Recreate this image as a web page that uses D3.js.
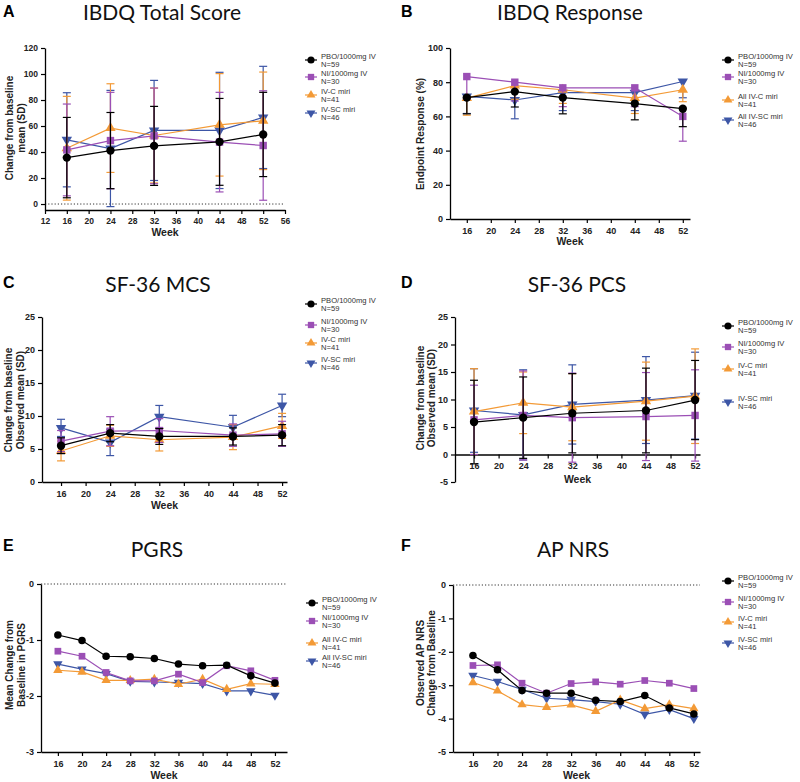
<!DOCTYPE html>
<html>
<head>
<meta charset="utf-8">
<script src="https://cdn.jsdelivr.net/npm/d3@7"></script>
<style>
body { margin: 0; background: #fff; }
text { font-family: "Liberation Sans", Arial, sans-serif; }
</style>
</head>
<body>
<div id="chart"></div>
<script>
// series, in legend order
const seriesN = ['N=59', 'N=30', 'N=41', 'N=46'];
const namesShort = ['PBO/1000mg IV', 'NI/1000mg IV', 'IV-C miri', 'IV-SC miri'];
const namesAll = ['PBO/1000mg IV', 'NI/1000mg IV', 'All IV-C miri', 'All IV-SC miri'];
const colours = ['#000000', '#9b4fb5', '#f39a36', '#3d56a6'];
const symbolTypes = ['circle', 'square', 'up', 'down'];

const weeksVisit = [16, 24, 32, 44, 52];
const weeksAll = [16, 20, 24, 28, 32, 36, 40, 44, 48, 52];

// A: IBDQ total score, mean change and SD
const ibdqMean = [
    [35.7, 41.1, 44.7, 47.8, 53.5],
    [41.6, 48.8, 52.4, 47.6, 45.0],
    [42.9, 58.4, 52.7, 60.9, 64.0],
    [49.4, 42.7, 56.6, 56.6, 66.6],
];
const ibdqSd = [
    [30.9, 29.3, 30.4, 33.4, 32.4],
    [35.3, 37.1, 36.8, 38.3, 42.1],
    [39.9, 34.1, 36.5, 39.4, 37.5],
    [36.2, 44.7, 38.5, 44.7, 39.3],
];

// B: IBDQ response (%), lower error only
const responsePct = [
    [71.0, 74.5, 71.0, 67.5, 64.5],
    [83.3, 80.0, 76.7, 76.7, 60.0],
    [70.7, 78.0, 75.6, 70.7, 75.6],
    [71.7, 69.6, 73.9, 73.9, 80.4],
];
const responseErr = [
    [9.5, 9.0, 9.5, 9.5, 10.5],
    [13.0, 11.0, 11.0, 11.0, 14.5],
    [10.0, 8.0, 8.0, 9.0, 7.0],
    [10.0, 11.0, 10.5, 10.5, 9.5],
];

// C: SF-36 MCS
const mcsMean = [
    [5.5, 7.4, 6.9, 6.9, 7.1],
    [6.2, 7.7, 7.8, 7.1, 7.3],
    [4.7, 7.0, 6.4, 6.8, 8.5],
    [8.2, 6.0, 9.9, 8.3, 11.6],
];
const mcsSd = [
    [1.2, 1.3, 1.2, 1.3, 1.6],
    [1.6, 2.2, 1.8, 1.7, 1.9],
    [1.5, 1.6, 1.7, 1.9, 1.9],
    [1.3, 2.0, 1.7, 1.8, 1.7],
];

// D: SF-36 PCS
const pcsMean = [
    [5.9, 6.7, 7.5, 8.0, 9.9],
    [6.3, 7.1, 6.7, 6.9, 7.1],
    [7.8, 9.4, 8.6, 9.7, 10.6],
    [8.0, 7.2, 9.1, 9.9, 10.7],
];
const pcsSd = [
    [7.6, 7.4, 7.2, 7.7, 7.2],
    [6.3, 8.1, 8.1, 8.0, 8.3],
    [7.8, 5.6, 6.1, 7.1, 8.6],
    [7.6, 8.2, 7.2, 7.9, 7.9],
];

// E: PGRS mean change
const pgrsMean = [
    [-0.91, -1.01, -1.29, -1.30, -1.33, -1.43, -1.46, -1.45, -1.64, -1.77],
    [-1.20, -1.29, -1.58, -1.73, -1.73, -1.61, -1.76, -1.46, -1.55, -1.72],
    [-1.54, -1.57, -1.72, -1.72, -1.70, -1.79, -1.70, -1.88, -1.78, -1.79],
    [-1.43, -1.52, -1.60, -1.74, -1.75, -1.76, -1.78, -1.91, -1.91, -1.99],
];

// F: AP NRS change
const apnrsMean = [
    [-2.11, -2.54, -3.16, -3.24, -3.24, -3.45, -3.49, -3.31, -3.68, -3.86],
    [-2.41, -2.39, -2.94, -3.24, -2.95, -2.90, -2.97, -2.86, -2.94, -3.10],
    [-2.92, -3.17, -3.58, -3.66, -3.59, -3.78, -3.44, -3.70, -3.58, -3.70],
    [-2.71, -2.89, -3.13, -3.39, -3.43, -3.49, -3.57, -3.87, -3.73, -4.00],
];

const svg = d3.select('#chart')
    .append('svg')
        .attr('width', 800)
        .attr('height', 782);

function symbolPath(type, size) {
    if (type === 'circle') return d3.symbol(d3.symbolCircle, size)();
    if (type === 'square') return d3.symbol(d3.symbolSquare, size)();
    return d3.symbol(d3.symbolTriangle, size * 0.85)();
}

function drawPanel(p) {
    const x = d3.scaleLinear().domain(p.xDomain).range([p.left, p.right]);
    const y = d3.scaleLinear().domain(p.yDomain).range([p.bottom, p.top]);
    const g = svg.append('g');

    // letter and title
    g.append('text')
        .text(p.letter)
        .attr('x', p.letterPos[0]).attr('y', p.letterPos[1])
        .attr('font-size', 16).attr('font-weight', 'bold');
    g.append('text')
        .text(p.title)
        .attr('x', p.titlePos[0]).attr('y', p.titlePos[1])
        .attr('text-anchor', 'middle')
        .style('font-family', 'Lato, "Open Sans", sans-serif')
        .attr('font-size', 21).attr('fill', '#111');

    // dotted zero line
    if (p.dotted) {
        g.append('line')
            .attr('x1', p.left).attr('x2', p.right)
            .attr('y1', y(0)).attr('y2', y(0))
            .attr('stroke', '#333').attr('stroke-width', 1)
            .attr('stroke-dasharray', '1.2,2');
    }

    // axes
    const yAxis = g.append('g')
        .attr('transform', 'translate(' + p.left + ',0)')
        .call(d3.axisLeft(y).tickValues(p.yTicks).tickSize(4).tickSizeOuter(0).tickFormat(d => String(d)));
    const xAxisY = p.xAxisAt === undefined ? p.bottom : y(p.xAxisAt);
    const xAxis = g.append('g')
        .attr('transform', 'translate(0,' + xAxisY + ')')
        .call(d3.axisBottom(x).tickValues(p.xTicks).tickSize(4).tickSizeOuter(0));
    [xAxis, yAxis].forEach(a => {
        a.select('.domain').attr('stroke-width', 1.3);
        a.selectAll('.tick line').attr('stroke-width', 1.2);
        a.selectAll('.tick text')
            .attr('font-size', p.tickFont)
            .attr('font-weight', 'bold')
            .attr('fill', '#222')
            .style('font-family', '"Liberation Sans", Arial, sans-serif');
    });
    xAxis.selectAll('.tick text').attr('dy', '0.85em');

    g.append('text')
        .text('Week')
        .attr('x', (p.left + p.right) / 2).attr('y', p.weekY)
        .attr('text-anchor', 'middle')
        .attr('font-size', 10.5).attr('font-weight', 'bold').attr('fill', '#222');

    p.yLabel.forEach((line, i) => {
        g.append('text')
            .text(line)
            .attr('transform', 'translate(' + p.yLabelX[i] + ',' + p.yLabelY + ') rotate(-90)')
            .attr('text-anchor', 'middle')
            .attr('font-size', 10).attr('font-weight', 'bold').attr('fill', '#222');
    });

    // series, PBO drawn last so it sits on top
    d3.range(p.means.length).reverse().forEach(si => {
        const col = colours[si];
        const pts = p.weeks.map((w, j) => ({ w: w, m: p.means[si][j], e: p.errs ? p.errs[si][j] : 0 }));
        const sg = g.append('g');

        if (p.errs) {
            pts.forEach(d => {
                const hi = p.errDown ? d.m : d.m + d.e;
                const lo = d.m - d.e;
                sg.append('line')
                    .attr('x1', x(d.w)).attr('x2', x(d.w))
                    .attr('y1', y(hi)).attr('y2', y(lo))
                    .attr('stroke', col).attr('stroke-width', 1.2);
                const caps = p.errDown ? [lo] : [lo, hi];
                caps.forEach(v => {
                    sg.append('line')
                        .attr('x1', x(d.w) - 4).attr('x2', x(d.w) + 4)
                        .attr('y1', y(v)).attr('y2', y(v))
                        .attr('stroke', col).attr('stroke-width', 1.2);
                });
            });
        }

        sg.append('path')
            .datum(pts)
            .attr('fill', 'none')
            .attr('stroke', col)
            .attr('stroke-width', 1.2)
            .attr('d', d3.line().x(d => x(d.w)).y(d => y(d.m)));

        sg.selectAll('path.sym')
            .data(pts)
            .join('path')
                .attr('class', 'sym')
                .attr('d', symbolPath(symbolTypes[si], p.symSize))
                .attr('transform', d => 'translate(' + x(d.w) + ',' + y(d.m) + ')' +
                    (symbolTypes[si] === 'down' ? ' rotate(180)' : ''))
                .attr('fill', col);
    });

    // legend
    p.legendRows.forEach((ry, i) => {
        const cy = ry + 4;
        g.append('line')
            .attr('x1', p.legendX - 6).attr('x2', p.legendX + 6)
            .attr('y1', cy).attr('y2', cy)
            .attr('stroke', colours[i]).attr('stroke-width', 1.2);
        g.append('path')
            .attr('d', symbolPath(symbolTypes[i], 40))
            .attr('transform', 'translate(' + p.legendX + ',' + cy + ')' +
                (symbolTypes[i] === 'down' ? ' rotate(180)' : ''))
            .attr('fill', colours[i]);
        g.append('text')
            .text(p.names[i])
            .attr('x', p.legendX + 10).attr('y', ry + 3)
            .attr('font-size', 7.6).attr('fill', '#333');
        g.append('text')
            .text(seriesN[i])
            .attr('x', p.legendX + 10).attr('y', ry + 11)
            .attr('font-size', 7.6).attr('fill', '#333');
    });
}

const ticks16to52 = d3.range(16, 53, 4);

drawPanel({
    letter: 'A', letterPos: [3, 17], title: 'IBDQ Total Score', titlePos: [162, 20],
    left: 45, right: 285, top: 48, bottom: 210,
    xDomain: [12, 56], yDomain: [-4.6, 120],
    xTicks: d3.range(12, 57, 4), yTicks: d3.range(0, 121, 20), tickFont: 8.5,
    dotted: true, weekY: 236,
    yLabel: ['Change from baseline', 'mean (SD)'], yLabelX: [13, 25], yLabelY: 128,
    weeks: weeksVisit, means: ibdqMean, errs: ibdqSd, symSize: 55,
    legendX: 311, legendRows: [56, 73, 91, 109], names: namesShort,
});

drawPanel({
    letter: 'B', letterPos: [401, 17], title: 'IBDQ Response', titlePos: [570, 20],
    left: 450, right: 690, top: 48, bottom: 219,
    xDomain: [13.2, 53.2], yDomain: [0, 100],
    xTicks: ticks16to52, yTicks: d3.range(0, 101, 20), tickFont: 9,
    weekY: 245,
    yLabel: ['Endpoint Response (%)'], yLabelX: [424], yLabelY: 134,
    weeks: weeksVisit, means: responsePct, errs: responseErr, errDown: true, symSize: 55,
    legendX: 728, legendRows: [56, 73, 96, 116], names: namesAll,
});

drawPanel({
    letter: 'C', letterPos: [3, 288], title: 'SF-36 MCS', titlePos: [158, 292],
    left: 42, right: 287, top: 317, bottom: 482,
    xDomain: [12.9, 52.8], yDomain: [0, 25],
    xTicks: ticks16to52, yTicks: d3.range(0, 26, 5), tickFont: 9,
    weekY: 509,
    yLabel: ['Change from baseline', 'Observed mean (SD)'], yLabelX: [12, 24], yLabelY: 400,
    weeks: weeksVisit, means: mcsMean, errs: mcsSd, symSize: 55,
    legendX: 311, legendRows: [300, 321, 339, 359], names: namesShort,
});

drawPanel({
    letter: 'D', letterPos: [401, 288], title: 'SF-36 PCS', titlePos: [577, 292],
    left: 455, right: 700, top: 317, bottom: 482,
    xDomain: [12.9, 52.8], yDomain: [-5, 25], xAxisAt: 0,
    xTicks: ticks16to52, yTicks: d3.range(-5, 26, 5), tickFont: 9,
    weekY: 483,
    yLabel: ['Change from baseline', 'Observed mean (SD)'], yLabelX: [424, 435], yLabelY: 398,
    weeks: weeksVisit, means: pcsMean, errs: pcsSd, symSize: 55,
    legendX: 728, legendRows: [322, 343, 365, 398], names: namesShort,
});

drawPanel({
    letter: 'E', letterPos: [3, 551], title: 'PGRS', titlePos: [157, 557],
    left: 41, right: 287, top: 584, bottom: 752,
    xDomain: [13.2, 54], yDomain: [-3, 0],
    xTicks: ticks16to52, yTicks: [-3, -2, -1, 0], tickFont: 9,
    dotted: true, weekY: 779,
    yLabel: ['Mean Change from', 'Baseline in PGRS'], yLabelX: [13, 25], yLabelY: 665,
    weeks: weeksAll, means: pgrsMean, symSize: 45,
    legendX: 312, legendRows: [599, 617, 639, 657], names: namesAll,
});

drawPanel({
    letter: 'F', letterPos: [401, 551], title: 'AP NRS', titlePos: [573, 557],
    left: 453, right: 700, top: 585, bottom: 752,
    xDomain: [12.75, 53], yDomain: [-5, 0],
    xTicks: ticks16to52, yTicks: d3.range(-5, 1, 1), tickFont: 9,
    dotted: true, weekY: 779,
    yLabel: ['Observed AP NRS', 'Change from Baseline'], yLabelX: [424, 435], yLabelY: 663,
    weeks: weeksAll, means: apnrsMean, symSize: 45,
    legendX: 728, legendRows: [577, 598, 618, 639], names: namesShort,
});
</script>
</body>
</html>
